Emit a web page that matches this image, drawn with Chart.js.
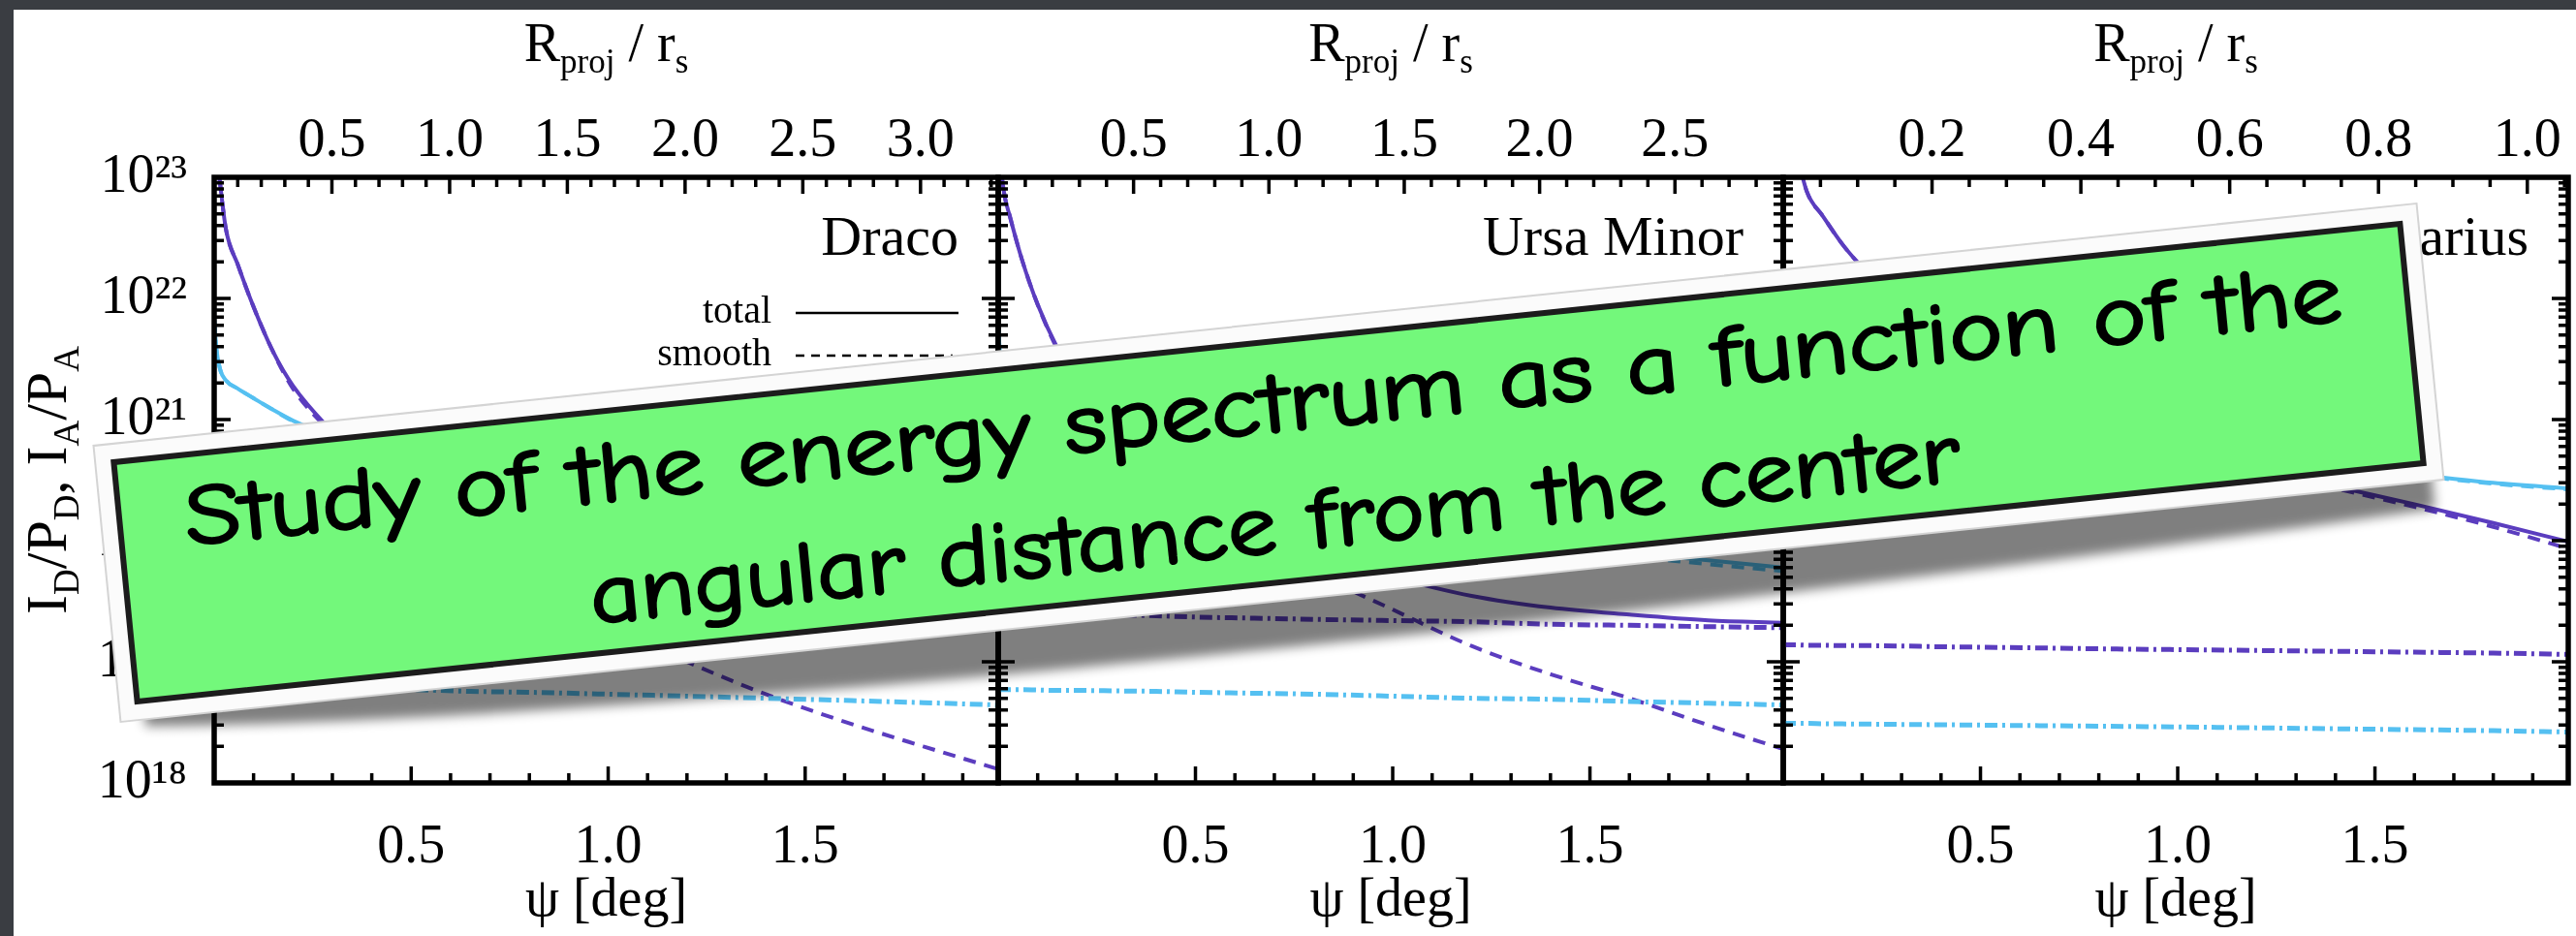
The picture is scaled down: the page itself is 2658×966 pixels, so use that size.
<!DOCTYPE html>
<html>
<head>
<meta charset="utf-8">
<title>Draco, Ursa Minor, Sagittarius</title>
<script src="https://cdn.jsdelivr.net/npm/chart.js@4.4.0/dist/chart.umd.min.js"></script>
<style>
  html, body { margin: 0; padding: 0; }
  body { width: 2658px; height: 966px; background: #3a3d42; position: relative; overflow: hidden; }
  #sheet { position: absolute; left: 14px; top: 10px; right: 0; bottom: 0; background: #fff; }
  canvas { position: absolute; top: 0; }
  #sticker { position: absolute; left: 0; top: 0; }
</style>
</head>
<body>
<div id="sheet"></div>
<canvas id="dracoChart" width="1100" height="966" style="left:0px"></canvas>
<canvas id="umiChart" width="950" height="966" style="left:960px"></canvas>
<canvas id="sgrChart" width="888" height="966" style="left:1770px"></canvas>

<svg id="sticker" width="2658" height="966" viewBox="0 0 2658 966">
  <defs>
    <filter id="stickerShadow" x="-5%" y="-40%" width="110%" height="180%">
      <feGaussianBlur stdDeviation="6"/>
    </filter>
  </defs>
  <g transform="matrix(1 -0.1043 0.0982 1 96.5 460)">
    <!-- curled-page shadow, deepest under the middle -->
    <path d="M 25 240 L 25 292 C 500 338, 1500 346, 2385 314 L 2385 240 Z" fill="#000" opacity="0.5" filter="url(#stickerShadow)"/>
    <rect x="0" y="0" width="2397" height="285" fill="#fbfbfb" stroke="#d4d4d4" stroke-width="2"/>
    <rect x="19" y="19" width="2359" height="247" fill="#73f87b" stroke="#1c1c1c" stroke-width="6"/>
    <g font-family="'Comic Sans MS', 'Comic Neue', 'Noto Sans', sans-serif" font-size="88" fill="#000"
       stroke="#000" stroke-width="2.5" stroke-linejoin="round" text-anchor="middle">
      <text x="1198.5" y="112" textLength="2225" lengthAdjust="spacingAndGlyphs">Study of the energy spectrum as a function of the</text>
      <text x="1198.5" y="235" textLength="1413" lengthAdjust="spacingAndGlyphs">angular distance from the center</text>
    </g>
  </g>
</svg>

<script>
// ψ grid (deg) shared by every curve
const psiGrid = [0, 0.005, 0.015, 0.03, 0.06, 0.1, 0.15, 0.2, 0.3, 0.4, 0.5, 0.65, 0.8, 1.0, 1.2, 1.4, 1.6, 1.8, 1.99];

// Draco
const dracoAnnTotal  = [3.2e23, 1.8e23, 8.9e22, 3.7e22, 1.9e22, 8.5e21, 3.6e21, 1.9e21, 7.9e20, 3.8e20, 2.1e20, 1.0e20, 6.0e19, 4.2e19, 3.0e19, 2.5e19, 2.3e19, 2.1e19, 2.0e19];
const dracoAnnSmooth = [3.2e23, 1.8e23, 8.9e22, 3.7e22, 1.9e22, 8.5e21, 3.6e21, 1.8e21, 7.6e20, 3.6e20, 1.9e20, 7.9e19, 4.0e19, 2.0e19, 1.0e19, 5.4e18, 3.2e18, 2.0e18, 1.3e18];
const dracoAnnSub    = [2.25e19, 2.25e19, 2.24e19, 2.24e19, 2.23e19, 2.23e19, 2.22e19, 2.21e19, 2.2e19, 2.19e19, 2.17e19, 2.15e19, 2.12e19, 2.08e19, 2.04e19, 2.0e19, 1.96e19, 1.92e19, 1.88e19];
const dracoDecTotal  = [6.8e21, 4.0e21, 2.6e21, 2.1e21, 1.8e21, 1.5e21, 1.2e21, 9.8e20, 7.2e20, 5.5e20, 4.4e20, 3.2e20, 2.4e20, 1.7e20, 1.3e20, 1.05e20, 8.5e19, 7.1e19, 6.0e19];
const dracoDecSmooth = [6.8e21, 4.0e21, 2.6e21, 2.1e21, 1.8e21, 1.5e21, 1.2e21, 9.7e20, 7.1e20, 5.4e20, 4.3e20, 3.1e20, 2.3e20, 1.65e20, 1.25e20, 1.0e20, 8.0e19, 6.6e19, 5.5e19];
const dracoDecSub    = [6.3e18, 6.3e18, 6.3e18, 6.3e18, 6.3e18, 6.2e18, 6.2e18, 6.2e18, 6.1e18, 6.0e18, 5.9e18, 5.7e18, 5.6e18, 5.4e18, 5.2e18, 5.0e18, 4.8e18, 4.6e18, 4.4e18];

// Ursa Minor
const umiAnnTotal  = [2.5e23, 1.4e23, 7.4e22, 4.7e22, 2.1e22, 8.9e21, 3.9e21, 2.1e21, 8.9e20, 4.6e20, 2.7e20, 1.3e20, 7.8e19, 5.0e19, 3.5e19, 2.8e19, 2.45e19, 2.2e19, 2.1e19];
const umiAnnSmooth = [2.5e23, 1.4e23, 7.4e22, 4.7e22, 2.1e22, 8.9e21, 3.8e21, 2.0e21, 8.5e20, 4.4e20, 2.4e20, 1.07e20, 5.5e19, 2.7e19, 1.35e19, 7.9e18, 5.0e18, 3.0e18, 1.9e18];
const umiAnnSub    = [2.63e19, 2.63e19, 2.63e19, 2.63e19, 2.57e19, 2.57e19, 2.57e19, 2.51e19, 2.45e19, 2.4e19, 2.34e19, 2.29e19, 2.24e19, 2.19e19, 2.14e19, 2.04e19, 2.0e19, 1.95e19, 1.91e19];
const umiDecTotal  = [5.6e21, 3.5e21, 2.5e21, 2.0e21, 1.6e21, 1.26e21, 1.0e21, 8.3e20, 6.0e20, 4.6e20, 3.5e20, 2.6e20, 2.0e20, 1.5e20, 1.15e20, 9.3e19, 7.9e19, 6.9e19, 6.0e19];
const umiDecSmooth = [5.6e21, 3.5e21, 2.5e21, 2.0e21, 1.6e21, 1.25e21, 1.0e21, 8.2e20, 5.9e20, 4.5e20, 3.4e20, 2.5e20, 1.95e20, 1.45e20, 1.1e20, 8.8e19, 7.4e19, 6.4e19, 5.6e19];
const umiDecSub    = [5.9e18, 5.9e18, 5.9e18, 5.9e18, 5.9e18, 5.85e18, 5.8e18, 5.8e18, 5.75e18, 5.7e18, 5.6e18, 5.5e18, 5.4e18, 5.2e18, 5.0e18, 4.9e18, 4.7e18, 4.55e18, 4.4e18];

// Sagittarius
const sgrAnnTotal  = [4.0e23, 3.5e23, 2.8e23, 1.8e23, 7.6e22, 4.8e22, 2.8e22, 1.8e22, 7.9e21, 4.2e21, 2.5e21, 1.4e21, 8.9e20, 5.6e20, 4.0e20, 2.8e20, 2.0e20, 1.4e20, 9.8e19];
const sgrAnnSmooth = [4.0e23, 3.5e23, 2.8e23, 1.8e23, 7.6e22, 4.8e22, 2.8e22, 1.8e22, 7.9e21, 4.2e21, 2.5e21, 1.4e21, 8.8e20, 5.5e20, 3.9e20, 2.7e20, 1.9e20, 1.3e20, 8.6e19];
const sgrAnnSub    = [1.38e19, 1.38e19, 1.38e19, 1.38e19, 1.37e19, 1.37e19, 1.36e19, 1.36e19, 1.35e19, 1.33e19, 1.32e19, 1.3e19, 1.28e19, 1.26e19, 1.24e19, 1.22e19, 1.2e19, 1.18e19, 1.15e19];
const sgrDecTotal  = [3.5e21, 2.8e21, 2.4e21, 2.1e21, 1.8e21, 1.6e21, 1.4e21, 1.26e21, 1.05e21, 8.9e20, 7.9e20, 6.8e20, 5.9e20, 5.0e20, 4.4e20, 3.9e20, 3.5e20, 3.0e20, 2.7e20];
const sgrDecSmooth = [3.5e21, 2.8e21, 2.4e21, 2.1e21, 1.8e21, 1.6e21, 1.4e21, 1.25e21, 1.05e21, 8.85e20, 7.85e20, 6.75e20, 5.85e20, 4.95e20, 4.35e20, 3.85e20, 3.45e20, 2.95e20, 2.65e20];
const sgrDecSub    = [3.1e18, 3.1e18, 3.1e18, 3.1e18, 3.1e18, 3.08e18, 3.07e18, 3.06e18, 3.04e18, 3.02e18, 3.0e18, 2.97e18, 2.94e18, 2.9e18, 2.85e18, 2.8e18, 2.75e18, 2.7e18, 2.63e18];

// axes
const psiMax = 1.99;
const psiTicks = [0.5, 1.0, 1.5];
const yDecades = [1e18, 1e19, 1e20, 1e21, 1e22, 1e23];
const dracoRTicks = [0.5, 1.0, 1.5, 2.0, 2.5, 3.0];
const umiRTicks = [0.5, 1.0, 1.5, 2.0, 2.5];
const sgrRTicks = [0.2, 0.4, 0.6, 0.8, 1.0];

const PURPLE = '#5b3dbf';
const BLUE = '#55c0f1';
const SERIF = '"Liberation Serif", "Times New Roman", serif';
const SUPERS = '⁰¹²³⁴⁵⁶⁷⁸⁹';

document.addEventListener('DOMContentLoaded', function() {
    initializePanels();
});

function initializePanels() {
    if (typeof Chart === 'undefined') {
        console.error('Chart.js not loaded');
        return;
    }
    Chart.defaults.font.family = SERIF;
    Chart.defaults.color = '#000';

    buildPanel('dracoChart', {
        name: 'Draco', rMax: 3.33, rTicks: dracoRTicks, rMajor: 0.5, rMinor: 0.1,
        padding: { left: 0, right: 70 }, yLabels: true, legend: true,
        ann: [dracoAnnTotal, dracoAnnSmooth, dracoAnnSub],
        dec: [dracoDecTotal, dracoDecSmooth, dracoDecSub]
    });
    buildPanel('umiChart', {
        name: 'Ursa Minor', rMax: 2.90, rTicks: umiRTicks, rMajor: 0.5, rMinor: 0.1,
        padding: { left: 70, right: 70 }, yLabels: false, legend: false,
        ann: [umiAnnTotal, umiAnnSmooth, umiAnnSub],
        dec: [umiDecTotal, umiDecSmooth, umiDecSub]
    });
    buildPanel('sgrChart', {
        name: 'Sagittarius', rMax: 1.055, rTicks: sgrRTicks, rMajor: 0.2, rMinor: 0.05,
        padding: { left: 70, right: 8 }, yLabels: false, legend: false,
        ann: [sgrAnnTotal, sgrAnnSmooth, sgrAnnSub],
        dec: [sgrDecTotal, sgrDecSmooth, sgrDecSub]
    });
}

function curve(values, color, dash, width) {
    return {
        data: psiGrid.map((x, i) => ({ x: x, y: values[i] })),
        borderColor: color,
        borderWidth: width,
        borderDash: dash,
        pointRadius: 0,
        fill: false,
        cubicInterpolationMode: 'monotone',
        xAxisID: 'x',
        yAxisID: 'y'
    };
}

function superscript(n) {
    return String(n).split('').map(d => SUPERS[+d]).join('');
}

// text with subscripts, centred on cx; parts are [text, isSubscript]
function drawRich(ctx, parts, cx, baseY, size) {
    const big = size + 'px ' + SERIF;
    const small = Math.round(size * 0.62) + 'px ' + SERIF;
    let total = 0;
    const widths = parts.map(([t, sub]) => {
        ctx.font = sub ? small : big;
        const w = ctx.measureText(t).width;
        total += w;
        return w;
    });
    let x = cx - total / 2;
    ctx.textAlign = 'left';
    ctx.textBaseline = 'alphabetic';
    parts.forEach(([t, sub], i) => {
        ctx.font = sub ? small : big;
        ctx.fillText(t, x, baseY + (sub ? size * 0.22 : 0));
        x += widths[i];
    });
}

function decorPlugin(panel) {
    return {
        id: 'panelDecor',
        afterDatasetsDraw(chart) {
            const { ctx, chartArea: a, scales } = chart;
            ctx.save();
            ctx.strokeStyle = '#000';
            ctx.lineWidth = 3.5;
            ctx.beginPath();
            // psi ticks every 0.1 deg, pointing inward
            for (let i = 1; i * 0.1 < psiMax; i++) {
                const x = scales.x.getPixelForValue(i * 0.1);
                const len = i % 5 === 0 ? 17 : 10;
                ctx.moveTo(x, a.bottom);
                ctx.lineTo(x, a.bottom - len);
            }
            // R_proj / r_s ticks on the top edge
            const per = Math.round(panel.rMajor / panel.rMinor);
            for (let i = 1; i * panel.rMinor < panel.rMax; i++) {
                const x = scales.xTop.getPixelForValue(i * panel.rMinor);
                const len = i % per === 0 ? 17 : 10;
                ctx.moveTo(x, a.top);
                ctx.lineTo(x, a.top + len);
            }
            // log ticks on both sides
            for (let e = 18; e < 23; e++) {
                for (let m = 1; m <= 9; m++) {
                    const y = scales.y.getPixelForValue(m * Math.pow(10, e));
                    const len = m === 1 ? 17 : 10;
                    ctx.moveTo(a.left, y);
                    ctx.lineTo(a.left + len, y);
                    ctx.moveTo(a.right, y);
                    ctx.lineTo(a.right - len, y);
                }
            }
            ctx.stroke();
            ctx.lineWidth = 5.5;
            ctx.strokeRect(a.left, a.top, a.right - a.left, a.bottom - a.top);
            ctx.restore();
        },
        afterDraw(chart) {
            const { ctx, chartArea: a } = chart;
            ctx.save();
            ctx.fillStyle = '#000';

            drawRich(ctx, [['R', false], ['proj', true], [' / r', false], ['s', true]], (a.left + a.right) / 2, 63, 56);

            ctx.font = '58px ' + SERIF;
            ctx.textAlign = 'right';
            ctx.textBaseline = 'alphabetic';
            ctx.fillText(panel.name, a.right - 41, a.top + 80);

            if (panel.legend) {
                const tx = a.right - 234;
                ctx.font = '40px ' + SERIF;
                ctx.fillText('total', tx, a.top + 150);
                ctx.fillText('smooth', tx, a.top + 194);
                ctx.strokeStyle = '#000';
                ctx.lineWidth = 2.5;
                ctx.beginPath();
                ctx.moveTo(tx + 25, a.top + 140);
                ctx.lineTo(tx + 193, a.top + 140);
                ctx.stroke();
                ctx.setLineDash([9, 7]);
                ctx.beginPath();
                ctx.moveTo(tx + 25, a.top + 184);
                ctx.lineTo(tx + 187, a.top + 184);
                ctx.stroke();
                ctx.setLineDash([]);
            }

            if (panel.yLabels) {
                ctx.translate(68, (a.top + a.bottom) / 2);
                ctx.rotate(-Math.PI / 2);
                drawRich(ctx, [['I', false], ['D', true], ['/P', false], ['D', true],
                               [', I', false], ['A', true], ['/P', false], ['A', true]], 0, 0, 60);
            }
            ctx.restore();
        }
    };
}

function buildPanel(canvasId, panel) {
    const canvas = document.getElementById(canvasId);
    if (!canvas) {
        console.error('Canvas not found: ' + canvasId);
        return null;
    }
    const tickFont = { family: SERIF, size: 56 };
    const [annTotal, annSmooth, annSub] = panel.ann;
    const [decTotal, decSmooth, decSub] = panel.dec;

    try {
        return new Chart(canvas.getContext('2d'), {
            type: 'line',
            data: {
                datasets: [
                    curve(annSub, PURPLE, [13, 5, 3, 5], 5),
                    curve(decSub, BLUE, [13, 5, 3, 5], 5),
                    curve(annSmooth, PURPLE, [13, 9], 4),
                    curve(decSmooth, BLUE, [13, 9], 4),
                    curve(annTotal, PURPLE, [], 4),
                    curve(decTotal, BLUE, [], 4)
                ]
            },
            options: {
                responsive: false,
                animation: false,
                events: [],
                layout: { padding: { left: panel.padding.left, right: panel.padding.right, top: 0, bottom: 0 } },
                plugins: {
                    legend: { display: false },
                    tooltip: { enabled: false }
                },
                scales: {
                    x: {
                        type: 'linear',
                        position: 'bottom',
                        min: 0,
                        max: psiMax,
                        afterFit: s => { s.height = 158; },
                        afterBuildTicks: s => { s.ticks = psiTicks.map(v => ({ value: v })); },
                        ticks: {
                            callback: v => v.toFixed(1),
                            font: tickFont,
                            color: '#000',
                            padding: 26,
                            maxRotation: 0,
                            autoSkip: false
                        },
                        grid: { display: false },
                        border: { display: false },
                        title: {
                            display: true,
                            text: 'ψ [deg]',
                            font: tickFont,
                            color: '#000',
                            padding: { top: 0, bottom: 2 }
                        }
                    },
                    xTop: {
                        type: 'linear',
                        axis: 'x',
                        position: 'top',
                        min: 0,
                        max: panel.rMax,
                        afterFit: s => { s.height = 183; },
                        afterBuildTicks: s => { s.ticks = panel.rTicks.map(v => ({ value: v })); },
                        ticks: {
                            callback: v => v.toFixed(1),
                            font: tickFont,
                            color: '#000',
                            padding: -5,
                            maxRotation: 0,
                            autoSkip: false
                        },
                        grid: { display: false },
                        border: { display: false }
                    },
                    y: {
                        type: 'logarithmic',
                        position: 'left',
                        min: 1e18,
                        max: 1e23,
                        display: panel.yLabels,
                        afterFit: s => { if (panel.yLabels) s.width = 221; },
                        afterBuildTicks: s => { s.ticks = yDecades.map(v => ({ value: v })); },
                        ticks: {
                            callback: v => '10' + superscript(Math.round(Math.log10(v))),
                            font: tickFont,
                            color: '#000',
                            padding: 20,
                            autoSkip: false
                        },
                        grid: { display: false },
                        border: { display: false }
                    }
                }
            },
            plugins: [decorPlugin(panel)]
        });
    } catch (error) {
        console.error('Error building panel ' + canvasId + ':', error);
        return null;
    }
}
</script>
</body>
</html>
